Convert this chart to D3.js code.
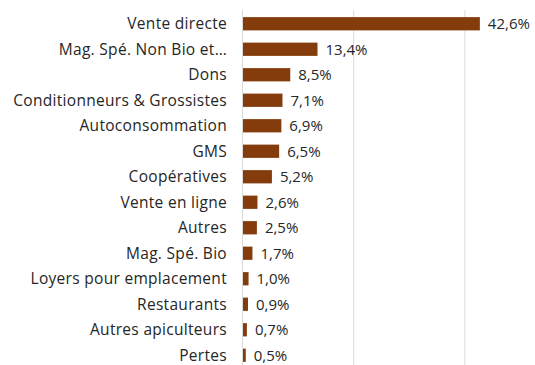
<!DOCTYPE html>
<html>
<head>
<meta charset="utf-8">
<script src="https://cdn.jsdelivr.net/npm/d3@7"></script>
<style>
  html, body { margin: 0; padding: 0; background: #fff; }
  svg { display: block; }
  text { font-family: "Open Sans", "Lato", sans-serif; }
</style>
</head>
<body>
<svg id="chart" width="535" height="365"></svg>
<script>
const categories = [
  "Vente directe",
  "Mag. Spé. Non Bio et…",
  "Dons",
  "Conditionneurs & Grossistes",
  "Autoconsommation",
  "GMS",
  "Coopératives",
  "Vente en ligne",
  "Autres",
  "Mag. Spé. Bio",
  "Loyers pour emplacement",
  "Restaurants",
  "Autres apiculteurs",
  "Pertes"
];
const shares = [42.6, 13.4, 8.5, 7.1, 6.9, 6.5, 5.2, 2.6, 2.5, 1.7, 1.0, 0.9, 0.7, 0.5];
const gridTicks = [0, 20, 40];

const svg = d3.select("#chart");
const margin = { top: 11, left: 243, right: 0 };
const plotW = 278; // 0–50 %
const plotH = 357;

const x = d3.scaleLinear().domain([0, 50]).range([margin.left, margin.left + plotW]);
const y = d3.scaleBand().domain(categories).range([margin.top, margin.top + plotH]).paddingInner(0.48).paddingOuter(0.24);

const fr = d3.formatLocale({ decimal: ",", thousands: " ", grouping: [3], currency: ["", " €"] });
const fmt = v => fr.format(".1f")(v) + "%";

// vertical gridlines
svg.append("g")
  .selectAll("line")
  .data(gridTicks)
  .join("line")
  .attr("x1", d => x(d) - 0.5).attr("x2", d => x(d) - 0.5)
  .attr("y1", margin.top - 1).attr("y2", 365)
  .attr("stroke", "#d9d9d9").attr("stroke-width", 1);

// bars
svg.append("g")
  .selectAll("rect")
  .data(shares)
  .join("rect")
  .attr("x", x(0))
  .attr("y", (d, i) => y(categories[i]))
  .attr("width", d => x(d) - x(0))
  .attr("height", y.bandwidth())
  .attr("fill", "#843c0c");

// value labels
svg.append("g")
  .selectAll("text")
  .data(shares)
  .join("text")
  .attr("x", d => x(d) + 8)
  .attr("y", (d, i) => y(categories[i]) + y.bandwidth() / 2)
  .attr("dy", "0.36em")
  .attr("font-size", 15)
  .attr("fill", "#262626")
  .text(fmt);

// category axis
const yAxis = d3.axisLeft(y).tickSize(0).tickPadding(16);
const ga = svg.append("g").attr("transform", `translate(${margin.left},0)`).call(yAxis);
ga.select(".domain").remove();
ga.selectAll("text")
  .attr("font-size", 15.5)
  .attr("letter-spacing", "0.3")
  .attr("fill", "#262626")
  .attr("dy", "0.36em")
  .style("font-family", '"Open Sans", "Lato", sans-serif');
</script>
</body>
</html>
